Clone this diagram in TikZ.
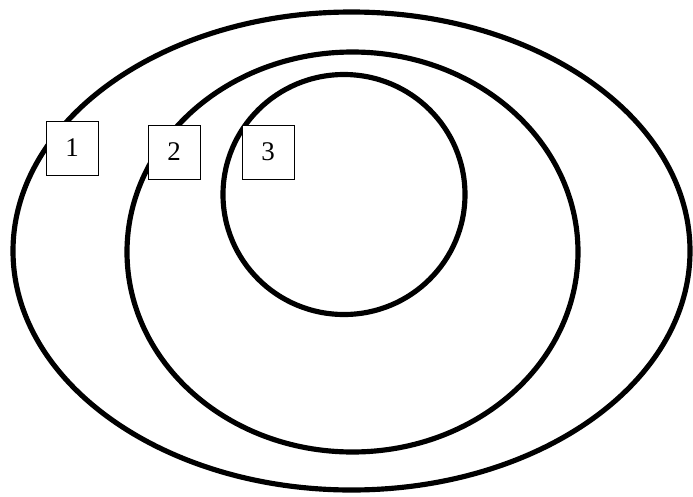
\documentclass[tikz,border=0pt]{standalone}
\usepackage{fontspec}
\setmainfont{Liberation Serif}
\usetikzlibrary{positioning}

\begin{document}
\begin{tikzpicture}[
  x=0.03cm, y=-0.03cm,
  ring/.style={line width=4.4pt},
  numbox/.style={draw, fill=white, line width=0.8pt, inner sep=0pt, minimum width=1.56cm, minimum height=1.62cm, font=\fontsize{23}{27}\selectfont}
]
\useasboundingbox (0,0) rectangle (693,496);

% nested sets
\draw[ring] (351.5,251) ellipse [x radius=338.5, y radius=239];
\draw[ring] (352.5,252) ellipse [x radius=225.5, y radius=200];
\draw[ring] (344,194.5) ellipse [x radius=121, y radius=120];

% labels
\node[numbox] (one) at (72,148) {1};
\node[numbox] (two) at (174,152) {2};
\node[numbox] (three) at (268,152) {3};
\end{tikzpicture}
\end{document}
